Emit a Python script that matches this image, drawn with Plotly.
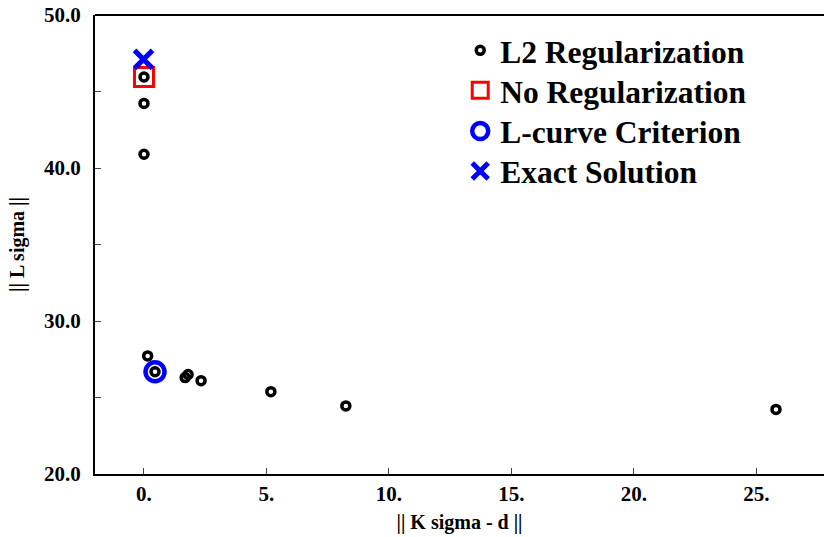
import plotly.graph_objects as go

# L2 regularization points
l2_x = [0.0, 0.0, 0.0, 0.15, 0.45, 1.68, 1.8, 2.33, 5.18, 8.24, 25.8]
l2_y = [45.95, 44.22, 40.9, 27.72, 26.68, 26.3, 26.5, 26.1, 25.38, 24.45, 24.22]
# No regularization
noreg_x = [0.0]
noreg_y = [45.95]
# L-curve criterion
lcurve_x = [0.45]
lcurve_y = [26.68]
# Exact solution
exact_x = [-0.02]
exact_y = [47.1]

x_tickvals = [0, 5, 10, 15, 20, 25]
x_ticktext = ["0.", "5.", "10.", "15.", "20.", "25."]
y_tickvals = [20, 30, 40, 50]
y_ticktext = ["20.0", "30.0", "40.0", "50.0"]

FONT = "Liberation Serif"

fig = go.Figure()
fig.add_trace(go.Scatter(x=l2_x, y=l2_y, mode="markers", name="L2 Regularization", legend="legend",
                         marker=dict(symbol="circle-open", size=8, color="black", line=dict(width=3.5, color="black"))))
fig.add_trace(go.Scatter(x=noreg_x, y=noreg_y, mode="markers", name="No Regularization", legend="legend2",
                         marker=dict(symbol="square-open", size=19, color="red", line=dict(width=3, color="red"))))
fig.add_trace(go.Scatter(x=lcurve_x, y=lcurve_y, mode="markers", name="L-curve Criterion", legend="legend3",
                         marker=dict(symbol="circle-open", size=19, color="blue", line=dict(width=4.5, color="blue"))))
fig.add_trace(go.Scatter(x=exact_x, y=exact_y, mode="markers", name="Exact Solution", legend="legend4",
                         marker=dict(symbol="x-thin-open", size=18, color="blue", line=dict(width=5, color="blue"))))

axis_common = dict(showline=True, linecolor="black", linewidth=2, ticks="inside", ticklen=6,
                   tickwidth=1, tickcolor="#444", showgrid=False, zeroline=False, automargin=False,
                   ticklabeloverflow="allow",
                   tickfont=dict(family=FONT, size=21, color="black", weight="bold"))

def leg(yc):
    return dict(x=0.501, y=yc, xanchor="left", yanchor="middle", bgcolor="rgba(0,0,0,0)",
                font=dict(family=FONT, size=31.5, color="black", weight="bold"))

fig.update_layout(
    width=824, height=537,
    margin=dict(l=95, r=0, t=15, b=63),
    plot_bgcolor="white", paper_bgcolor="white",
    font=dict(family=FONT, color="black"),
    showlegend=True,
    legend=leg(0.923), legend2=leg(0.836), legend3=leg(0.747), legend4=leg(0.660),
    xaxis=dict(range=[-2.0, 27.76], tickvals=x_tickvals, ticktext=x_ticktext,
               title=dict(text="|| K sigma - d ||", font=dict(family=FONT, size=20, color="black", weight="bold"), standoff=10),
               **axis_common),
    yaxis=dict(range=[20, 50], tickvals=y_tickvals, ticktext=y_ticktext, ticklabelstandoff=8,
               minor=dict(tickvals=[25, 35, 45], ticks="inside", ticklen=6, tickcolor="#444", tickwidth=1),
               title=dict(text="|| L sigma ||", font=dict(family=FONT, size=20, color="black", weight="bold"), standoff=14),
               **axis_common),
    shapes=[dict(type="line", xref="paper", yref="paper", x0=0, x1=1, y0=1, y1=1,
                 line=dict(color="black", width=2))],
)

fig.write_html("out.html", config={"displayModeBar": False},
               post_script="document.body.style.margin='0';")
